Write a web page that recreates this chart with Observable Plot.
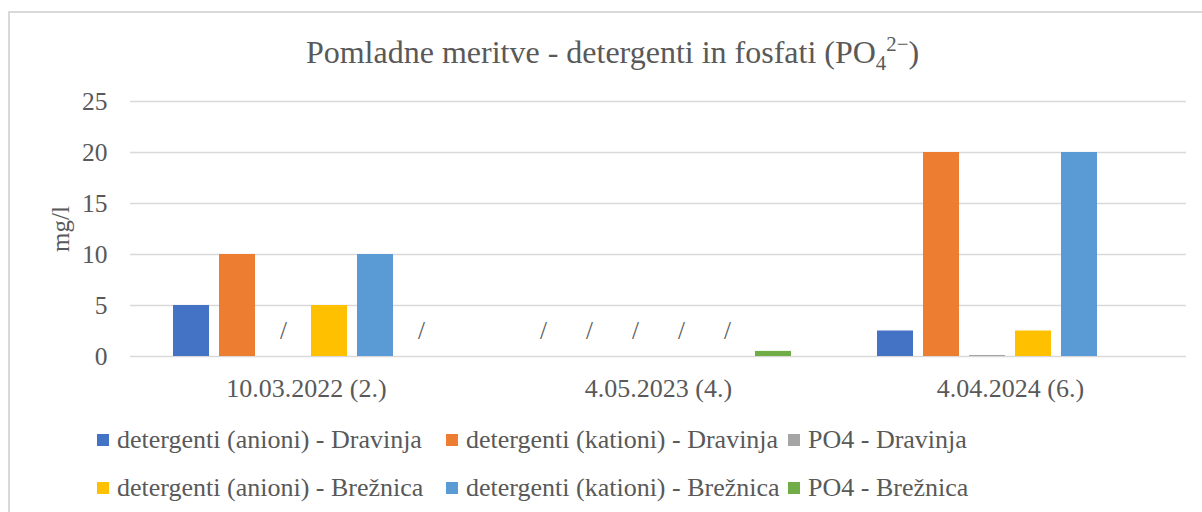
<!DOCTYPE html>
<html>
<head>
<meta charset="utf-8">
<script src="https://cdn.jsdelivr.net/npm/d3@7"></script>
<script src="https://cdn.jsdelivr.net/npm/@observablehq/plot@0.6"></script>
<style>
  html, body { margin: 0; padding: 0; background: #fff; overflow: hidden; }
  body { width: 1202px; height: 512px; position: relative; font-family: "Liberation Serif", "Times New Roman", Times, "DejaVu Serif", serif; color: #595959; }
  #frame { position: absolute; left: 8px; top: 11px; width: 1300px; height: 600px; border-left: 2px solid #d9d9d9; border-top: 2px solid #d9d9d9; }
  #title { position: absolute; left: 0; width: 1225px; top: 32px; text-align: center; font-size: 32px; line-height: 40px; white-space: nowrap; }
  #title sub { font-size: 0.65em; vertical-align: -0.35em; line-height: 0; }
  #title sup { font-size: 0.65em; vertical-align: 0.6em; line-height: 0; }
  #chart { position: absolute; left: 0; top: 80px; }
  #ylabel { position: absolute; left: 61px; top: 229px; transform: translate(-50%, -50%) rotate(-90deg); font-size: 25px; white-space: nowrap; }
  .leg { position: absolute; font-size: 26px; line-height: 30px; white-space: nowrap; display: flex; align-items: center; }
  .leg span.sw { display: inline-block; width: 12px; height: 12px; margin-right: 8px; }
</style>
</head>
<body>
<div id="frame"></div>
<div id="title">Pomladne meritve - detergenti in fosfati (PO<sub>4</sub><sup>2−</sup>)</div>
<div id="chart"></div>
<div id="ylabel">mg/l</div>
<div id="legend"></div>
<script>
// Categories (sampling dates)
const dates = ["10.03.2022 (2.)", "4.05.2023 (4.)", "4.04.2024 (6.)"];
// Series names
const seriesNames = [
  "detergenti (anioni) - Dravinja",
  "detergenti (kationi) - Dravinja",
  "PO4 - Dravinja",
  "detergenti (anioni) - Brežnica",
  "detergenti (kationi) - Brežnica",
  "PO4 - Brežnica"
];
const seriesColors = ["#4472C4", "#ED7D31", "#A5A5A5", "#FFC000", "#5B9BD5", "#70AD47"];
// Values per series ("/" = not measured, null = no value)
const anioniDravinja  = [5, "/", 2.5];
const kationiDravinja = [10, "/", 20];
const po4Dravinja     = ["/", "/", 0.1];
const anioniBreznica  = [5, "/", 2.5];
const kationiBreznica = [10, "/", 20];
const po4Breznica     = ["/", 0.5, null];
const yTicks = [0, 5, 10, 15, 20, 25];

const seriesValues = [anioniDravinja, kationiDravinja, po4Dravinja, anioniBreznica, kationiBreznica, po4Breznica];
const rows = [];
seriesNames.forEach((s, i) => {
  dates.forEach((d, j) => {
    const v = seriesValues[i][j];
    rows.push({date: d, series: s, value: typeof v === "number" ? v : null, label: v === "/" ? "/" : null});
  });
});

const FONT = "'Liberation Serif', 'Times New Roman', Times, 'DejaVu Serif', serif";
const chart = Plot.plot({
  width: 1202,
  height: 330,
  marginLeft: 130,
  marginRight: 16,
  marginTop: 21,
  marginBottom: 54,
  style: {fontFamily: FONT, color: "#595959", background: "transparent"},
  fx: {domain: dates, padding: 0, label: null, axis: null},
  x: {domain: seriesNames, paddingInner: 0.21, paddingOuter: 0.865, axis: null},
  y: {domain: [0, 25], label: null, axis: null},
  color: {domain: seriesNames, range: seriesColors},
  marks: [
    Plot.ruleY(yTicks, {stroke: "#d9d9d9", strokeWidth: 1.5}),
    Plot.barY(rows.filter(d => d.value != null), {fx: "date", x: "series", y: "value", fill: "series"}),
    Plot.text(rows.filter(d => d.label), {fx: "date", x: "series", y: () => 0, dy: -26, text: "label", fontSize: 25, fill: "#595959"}),
    Plot.axisY({ticks: yTicks, tickSize: 0, tickPadding: 23, fontSize: 25.5, label: null, fill: "#595959"}),
    Plot.axisFx({anchor: "bottom", tickSize: 0, tickPadding: 22, fontSize: 26, label: null, fill: "#595959"})
  ]
});
document.getElementById("chart").appendChild(chart);

// Legend (two rows, three columns)
const legCols = [97, 446, 788];
const legRows = [440, 488];
const legend = document.getElementById("legend");
seriesNames.forEach((s, i) => {
  const el = document.createElement("div");
  el.className = "leg";
  el.style.left = legCols[i % 3] + "px";
  el.style.top = (legRows[Math.floor(i / 3)] - 15) + "px";
  const sw = document.createElement("span");
  sw.className = "sw";
  sw.style.background = seriesColors[i];
  el.appendChild(sw);
  el.appendChild(document.createTextNode(s));
  legend.appendChild(el);
});
</script>
</body>
</html>
